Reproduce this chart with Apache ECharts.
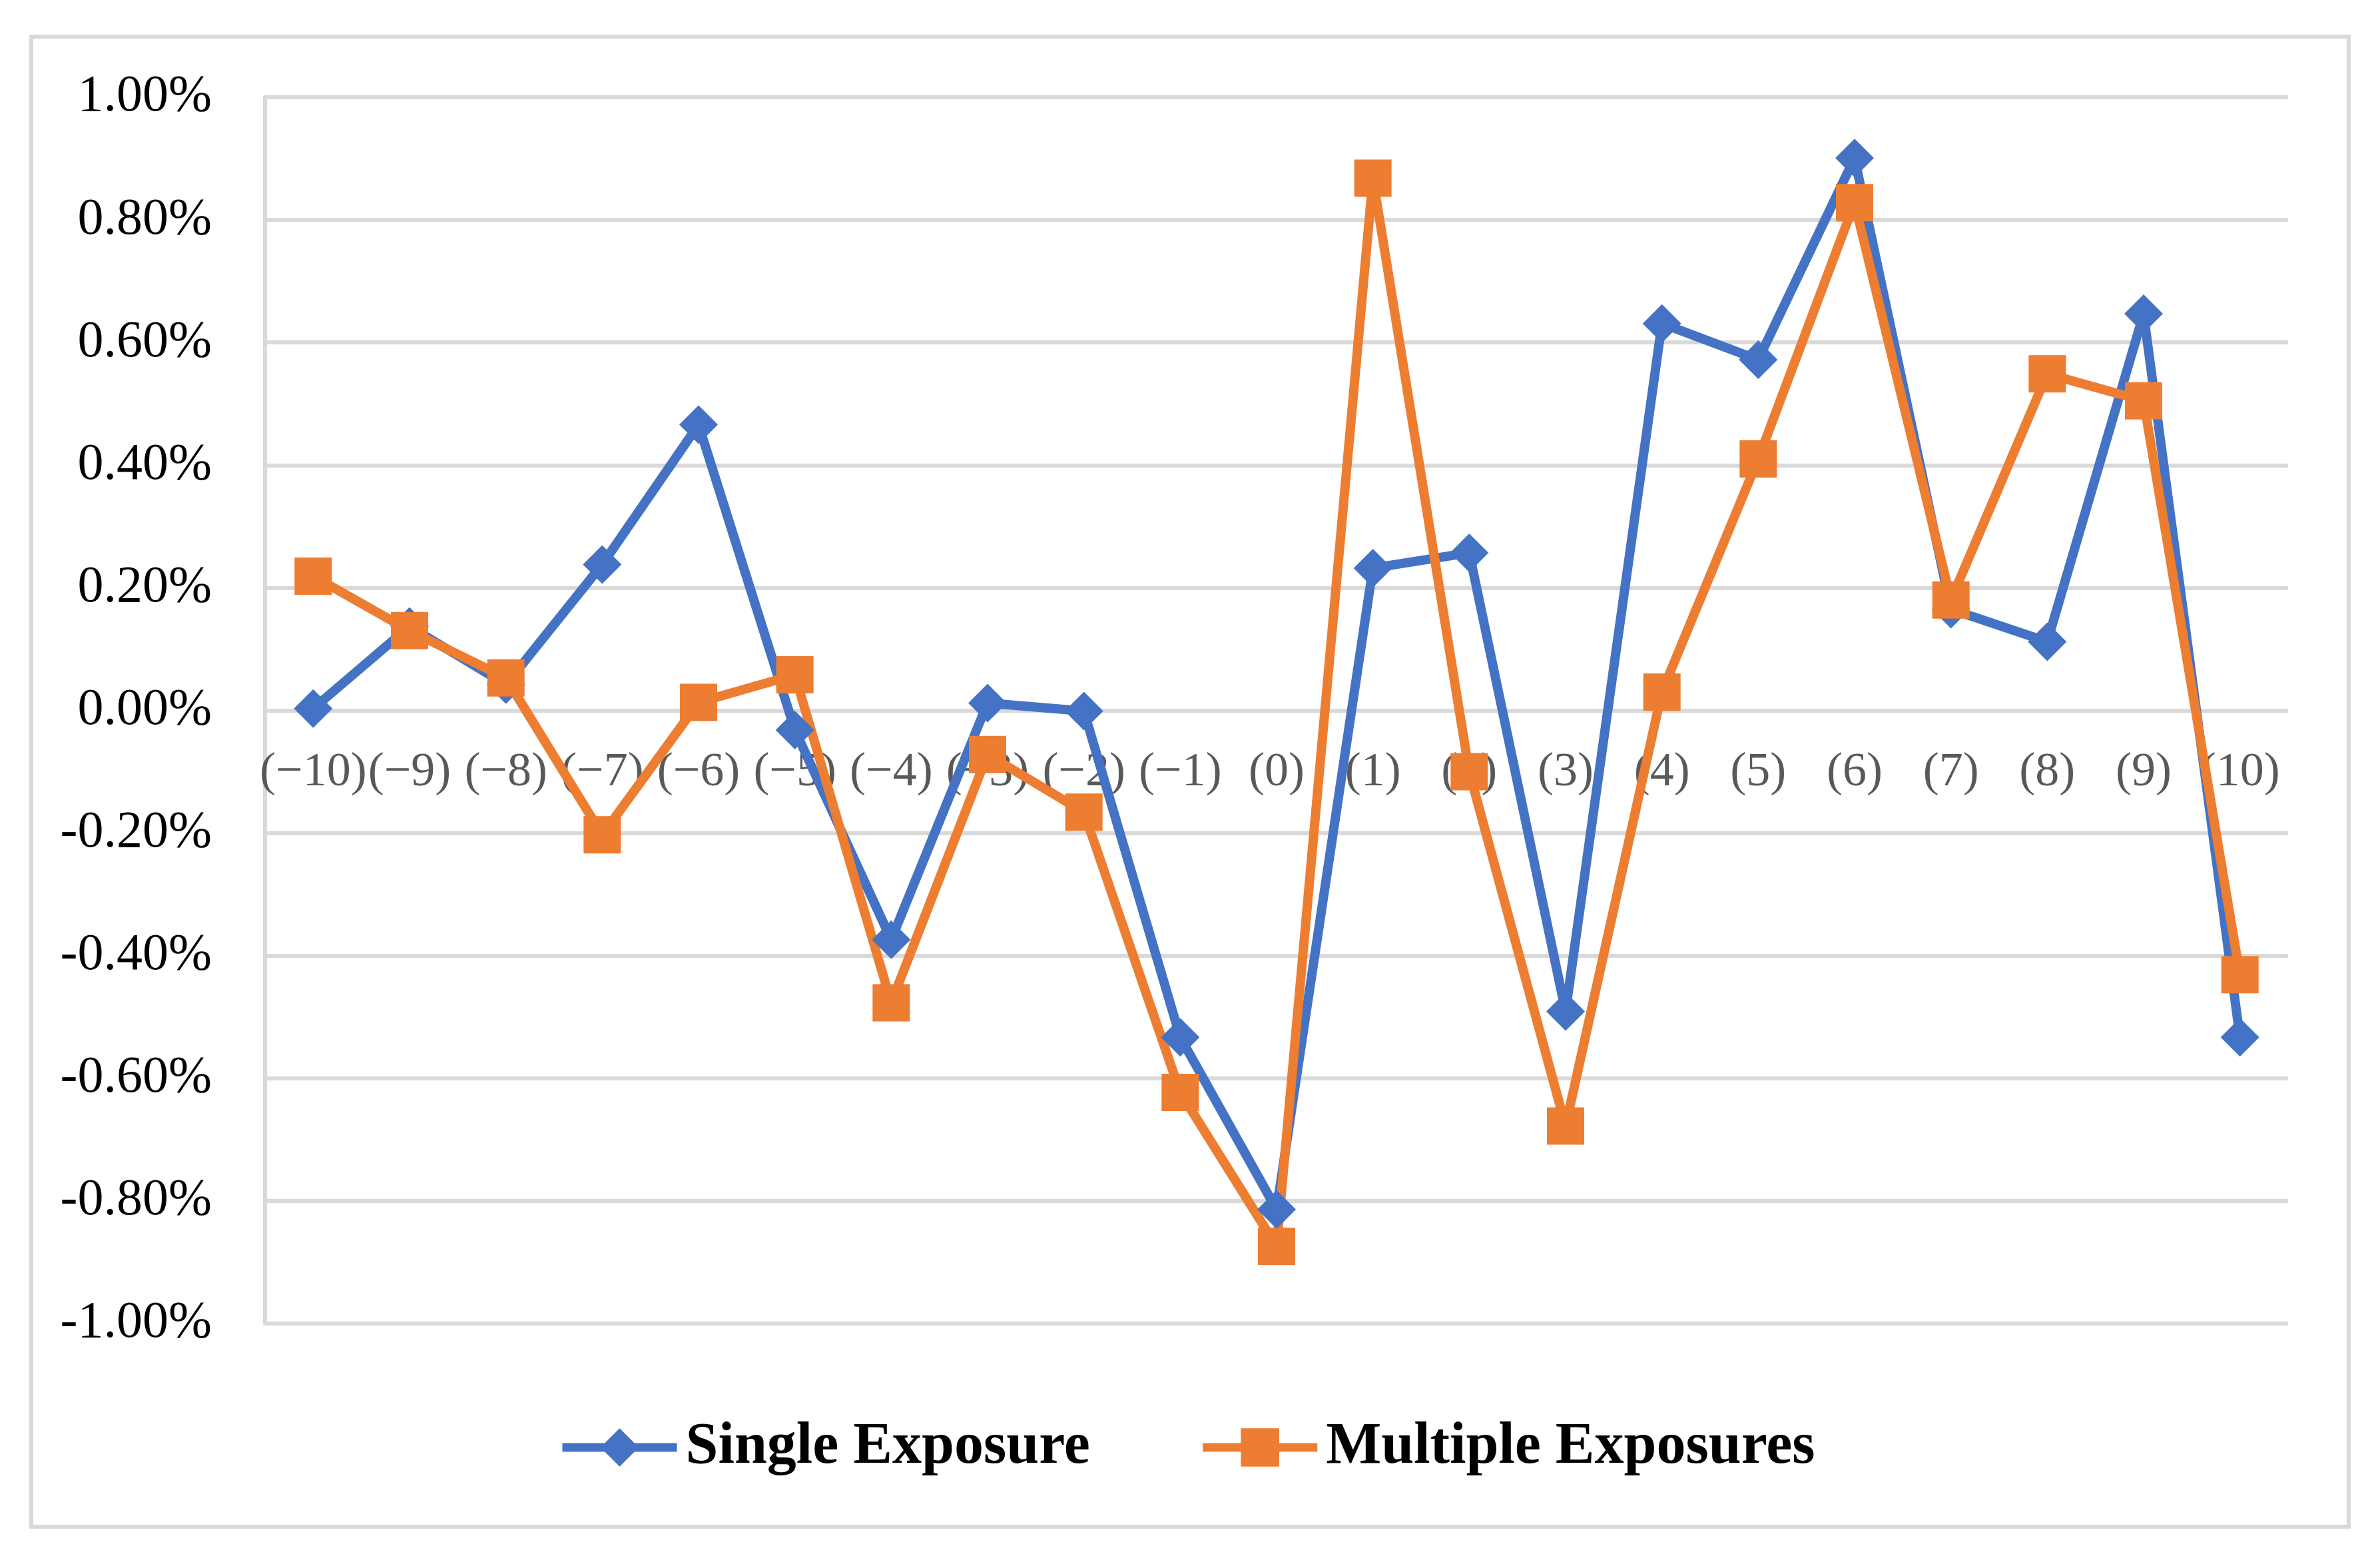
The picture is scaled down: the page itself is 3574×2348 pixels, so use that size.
<!DOCTYPE html>
<html>
<head>
<meta charset="utf-8">
<style>
  html, body { margin: 0; padding: 0; background: #ffffff; }
  #chart { width: 3574px; height: 2348px; }
</style>
<script src="https://cdn.jsdelivr.net/npm/echarts@6/dist/echarts.min.js"></script>
</head>
<body>
<div id="chart"></div>
<script>
// Event-day categories
const categories = ['(−10)','(−9)','(−8)','(−7)','(−6)','(−5)','(−4)','(−3)','(−2)','(−1)','(0)','(1)','(2)','(3)','(4)','(5)','(6)','(7)','(8)','(9)','(10)'];
// Values in percent
const singleExposure = [0.003, 0.137, 0.042, 0.238, 0.466, -0.032, -0.374, 0.012, -0.001, -0.533, -0.814, 0.232, 0.257, -0.491, 0.631, 0.572, 0.901, 0.165, 0.112, 0.647, -0.533];
const multipleExposures = [0.219, 0.130, 0.053, -0.203, 0.013, 0.058, -0.477, -0.072, -0.166, -0.623, -0.874, 0.868, -0.100, -0.678, 0.030, 0.410, 0.828, 0.180, 0.549, 0.505, -0.431];
const seriesNames = ['Single Exposure', 'Multiple Exposures'];
const yTicks = { min: -1, max: 1, interval: 0.2 };

const chart = echarts.init(document.getElementById('chart'), null, { renderer: 'canvas' });
const grey = '#d9d9d9';
const gridTop = 146, gridBottom = 361, chartH = 2348;
const plotH = chartH - gridTop - gridBottom;
chart.setOption({
  backgroundColor: '#ffffff',
  animation: false,
  graphic: [{
    type: 'rect',
    shape: { x: 47, y: 55, width: 3480, height: 2237 },
    style: { fill: 'none', stroke: grey, lineWidth: 6 },
    silent: true
  }],
  grid: { left: 398, right: 138, top: gridTop, bottom: gridBottom, containLabel: false },
  legend: {
    left: 833,
    top: 2124,
    itemWidth: 172,
    itemHeight: 72,
    itemGap: 163,
    lineStyle: { width: 13 },
    textStyle: { fontFamily: 'Liberation Serif', fontWeight: 'bold', fontSize: 88, color: '#000000', padding: [0, 0, 0, 8] },
    data: seriesNames
  },
  xAxis: {
    type: 'category',
    data: categories,
    boundaryGap: true,
    offset: -plotH / 2,
    axisLine: { show: false, onZero: false, lineStyle: { color: grey, width: 6 } },
    axisTick: { show: false },
    axisLabel: {
      interval: 0,
      hideOverlap: false,
      margin: 58,
      fontFamily: 'Liberation Serif',
      fontSize: 72,
      color: '#595959'
    },
    splitLine: { show: false }
  },
  yAxis: {
    type: 'value',
    min: yTicks.min,
    max: yTicks.max,
    interval: yTicks.interval,
    axisLine: { show: true, lineStyle: { color: grey, width: 6 } },
    axisTick: { show: false },
    axisLabel: {
      margin: 80,
      fontFamily: 'Liberation Serif',
      fontSize: 78,
      color: '#000000',
      formatter: v => v.toFixed(2) + '%'
    },
    splitLine: { show: true, lineStyle: { color: grey, width: 6 } }
  },
  series: [
    {
      name: seriesNames[0],
      type: 'line',
      data: singleExposure,
      symbol: 'diamond',
      symbolSize: 58,
      color: '#4472C4',
      lineStyle: { width: 14, color: '#4472C4' },
      itemStyle: { color: '#4472C4' }
    },
    {
      name: seriesNames[1],
      type: 'line',
      data: multipleExposures,
      symbol: 'rect',
      symbolSize: 56,
      color: '#ED7D31',
      lineStyle: { width: 14, color: '#ED7D31' },
      itemStyle: { color: '#ED7D31' }
    }
  ]
});
</script>
</body>
</html>
